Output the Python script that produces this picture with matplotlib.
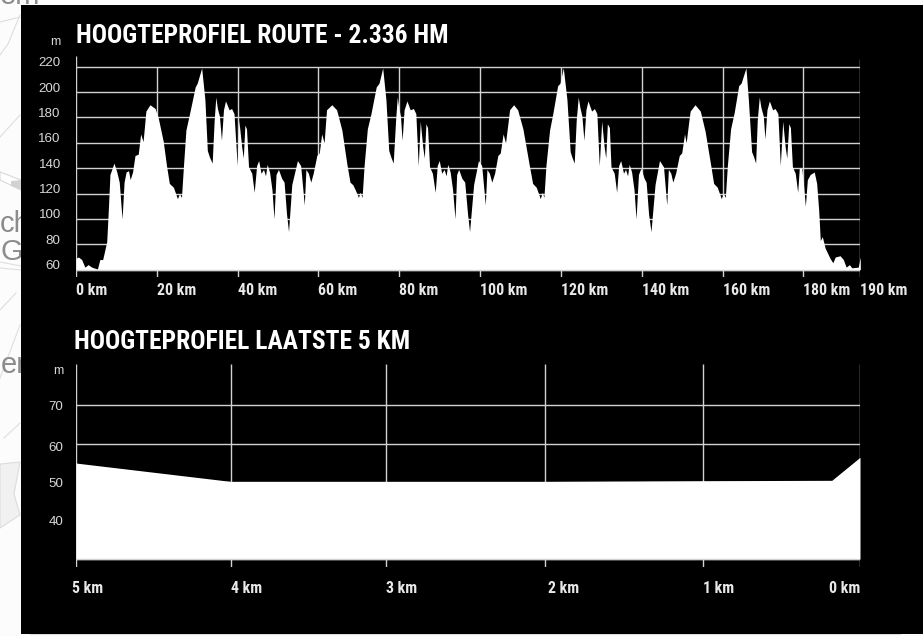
import matplotlib
matplotlib.use("Agg")
import matplotlib.pyplot as plt
from matplotlib.patches import Rectangle, Polygon
from matplotlib.lines import Line2D
from matplotlib.transforms import ScaledTranslation

W, H = 923, 636

route_km = [0,0.6,1.4,2.2,3.0,3.9,5.3,5.9,6.6,7.6,8.0,8.4,9.4,10.1,10.7,11.4,11.9,12.4,13.0,13.4,14.0,14.6,15.4,16.0,16.6,17.3,18.3,19.6,20.4,21.6,22.4,23.1,24.1,25.1,25.6,26.1,26.6,27.2,28.1,29.5,30.0,31.1,31.9,32.5,33.0,33.7,34.2,34.6,35.0,35.5,36.0,36.5,37.0,37.9,38.5,39.1,39.9,40.3,41.0,41.4,41.8,42.2,42.7,43.5,44.1,44.7,45.2,45.8,46.4,46.9,47.3,47.9,48.5,49.0,49.5,50.1,50.9,51.5,52.1,52.6,53.4,54.8,55.6,56.5,56.9,57.5,58.1,58.7,59.6,60.2,60.8,61.4,62.0,63.3,64.5,65.8,67.0,67.8,
    68.5,69.1,69.9,70.3,70.8,71.3,72.1,73.0,74.3,75.0,75.9,76.7,77.4,77.9,78.5,79.1,79.5,79.9,80.3,80.7,81.2,81.9,82.7,83.5,84.1,84.7,85.2,85.8,86.2,86.6,87.0,87.5,88.2,88.9,89.4,89.9,90.5,91.1,91.6,92.0,92.6,93.2,93.8,94.2,94.7,95.5,96.2,96.9,97.4,98.4,99.6,100.4,101.3,101.7,102.3,102.9,103.6,104.4,105.0,105.7,106.3,107.0,107.3,108.3,109.3,110.6,112.2,113.0,113.9,114.9,115.4,115.8,116.3,117.2,118.0,119.2,119.8,120.6,121.5,122.3,122.7,123.3,123.8,124.3,124.7,125.2,125.7,126.2,126.7,127.6,128.3,128.9,129.5,130.1,130.7,131.1,131.5,132.0,132.4,133.2,133.8,134.3,134.8,135.5,136.0,136.5,136.9,
    137.5,138.1,138.6,139.2,139.8,140.6,141.1,141.7,142.3,143.3,144.4,145.4,146.2,146.6,147.2,147.7,148.4,149.3,149.9,150.6,151.0,151.7,152.0,153.2,154.5,155.7,157.1,157.8,158.7,159.7,160.2,160.7,161.2,162.0,162.9,164.0,164.6,165.8,166.4,167.2,167.7,168.2,168.6,169.1,169.5,170.1,170.5,171.0,171.6,172.4,173.0,173.7,174.3,174.9,175.5,175.9,176.4,176.8,177.3,178.0,178.6,179.0,179.6,180.0,180.5,181.0,181.7,182.7,183.3,183.8,184.2,184.7,185.4,186.6,187.3,187.9,189.1,189.9,190.6,191.4,192.0,193.6,194.1]
route_m = [69,70,68,62,64,62,60.5,68,68,82,107,135,144,137,129,100,129,137,138,131,137,150,151,167,161,185,190,187,179,161,142,128,125,116,120,117,142,170,183,204,207,219,194,154,149,144,178,196,187,181,162,186,193,186,187,183,142,178,157,148,174,171,141,136,121,142,146,136,139,134,143,137,123,100,135,139,132,129,104,90,127,146,142,111,139,136,129,136,150,152,167,160,186,190,186,170,144,129,
    127,123,117,121,117,142,171,183,204,207,219,194,154,149,144,178,196,187,181,162,186,193,186,187,183,142,177,157,148,175,172,141,136,121,142,146,136,139,134,143,137,123,100,135,139,132,129,104,90,127,146,142,111,139,136,129,136,150,152,167,160,178,186,190,186,171,142,128,125,116,121,117,142,170,183,205,207,219,194,153,149,144,178,196,188,181,162,186,193,185,187,183,142,177,157,148,175,172,141,136,121,142,146,136,139,134,143,
    137,123,100,135,140,132,129,104,90,127,146,141,111,139,136,129,136,150,152,167,160,178,185,190,185,169,142,128,125,116,120,117,142,171,184,205,207,219,194,153,149,144,178,196,188,181,163,186,193,186,187,183,142,177,157,148,175,172,141,136,121,140,140,129,110,131,135,137,128,107,83,86,77,69,65.5,70,71,68,62,64,61.5,62,70]

route_ticks = [0,20,40,60,80,100,120,140,160,180,194.1]
route_tick_labels = ["0 km","20 km","40 km","60 km","80 km","100 km","120 km","140 km","160 km","180 km","190 km"]
route_yticks = [220,200,180,160,140,120,100,80,60]

last_km = [5,4.01,3.02,2.01,1,0.18,0]
last_m = [55,50.2,50.2,50.2,50.4,50.5,56.5]
last_ticks = [5,4.01,3.02,2.01,1,0]
last_tick_labels = ["5 km","4 km","3 km","2 km","1 km","0 km"]
last_yticks = [70,60,50,40]

title_top = "HOOGTEPROFIEL ROUTE - 2.336 HM"
title_bottom = "HOOGTEPROFIEL LAATSTE 5 KM"

COND = ["Roboto Condensed", "Liberation Sans", "DejaVu Sans"]
SANS = ["Liberation Sans", "DejaVu Sans"]
GRID = "#d2d2d2"
LABEL = "#d8d8d8"

fig = plt.figure(figsize=(W/100, H/100), dpi=100, facecolor="#fbfcfb")

def fx(p): return p / W
def fy(p): return 1 - p / H
def px_shift(dx, dy):
    return ScaledTranslation(dx / 100, -dy / 100, fig.dpi_scale_trans)

# faint map behind the panel
map_lines = [
    [(0,22),(20,17)], [(0,55),(8,44),(20,15)], [(0,137),(20,115)],
    [(0,268),(21,270)], [(0,262),(21,266)],
    [(0,310),(16,293)], [(0,378),(20,325)], [(4,438),(20,423)],
    [(30,634),(900,634)],
]
for seg in map_lines:
    fig.add_artist(Line2D([fx(a) for a, b in seg], [fy(b) for a, b in seg],
                          color="#dedede", lw=0.8, zorder=0))
fig.add_artist(Polygon([(fx(0),fy(172)),(fx(21),fy(180)),(fx(21),fy(190)),(fx(0),fy(180))],
                       closed=True, facecolor="#ffffff", edgecolor="#d8d8d8", lw=0.8, zorder=0))
fig.add_artist(Polygon([(fx(11),fy(181)),(fx(21),fy(180)),(fx(21),fy(190)),(fx(11),fy(186))],
                       closed=True, facecolor="#d2d2d2", edgecolor="none", zorder=0))
fig.add_artist(Polygon([(fx(0),fy(464)),(fx(1),fy(464)),(fx(20),fy(462)),(fx(14),fy(494)),(fx(20),fy(515)),(fx(0),fy(528))],
                       closed=True, facecolor="#f1f1f1", edgecolor="#dcdcdc", lw=0.8, zorder=0))
for s, x, y in [("em", 0, 4), ("ch", 0, 232), ("Ge", 0, 260), ("er", 1, 373)]:
    fig.text(fx(x), fy(y), s, fontsize=21, color="#8c8c8c", family=SANS, va="baseline", zorder=0)

fig.add_artist(Rectangle((fx(21), fy(634)), fx(W - 21), (634 - 5) / H, facecolor="black",
                         edgecolor="none", zorder=1))

def make_axes(left, right, top, bottom):
    ax = fig.add_axes([fx(left), fy(bottom), (right - left) / W, (bottom - top) / H], zorder=2)
    ax.patch.set_alpha(0)
    for s in ax.spines.values():
        s.set_visible(False)
    return ax

def style_ticks(ax, xticks, xlabels, yticks, xpad, ypad):
    ax.set_xticks(xticks, xlabels, ha="left", family=COND, fontweight="bold", fontsize=11.4, color="#e8e8e8")
    ax.set_yticks(yticks, [str(v) for v in yticks], family=SANS, fontsize=9.6, color=LABEL)
    ax.tick_params(axis="both", length=0)
    ax.tick_params(axis="x", pad=xpad)
    ax.tick_params(axis="y", pad=ypad)

# top chart
ax1 = make_axes(76, 860.3, 56, 277)
ax1.set_xlim(0, 194.1)
ax1.set_ylim(54.25, 228.4)
ax1.hlines(route_yticks, 0, 194.1, color=GRID, lw=1, zorder=1)
ax1.vlines(route_ticks[1:-1], 54.25, 220, color=GRID, lw=1, zorder=1)
ax1.vlines([0], 54.25, 228.4, color=GRID, lw=1, zorder=1)
ax1.vlines([194.1], 54.25, 226, color=GRID, lw=1, zorder=1)
ax1.fill_between(route_km, route_m, 60, color="white", lw=0, zorder=2)
ax1.hlines([60], 0, 194.1, color=GRID, lw=1, zorder=3)
style_ticks(ax1, route_ticks, route_tick_labels, route_yticks, 4.5, 11)
for lab in ax1.get_yticklabels():
    lab.set_transform(lab.get_transform() + px_shift(0, -5))

# bottom chart
ax2 = make_axes(76, 860, 364, 566.7)
ax2.set_xlim(5, 0)
ax2.set_ylim(28, 80.8)
ax2.hlines(last_yticks + [30], 5, 0, color=GRID, lw=1, zorder=1)
ax2.vlines(last_ticks, 28, 80.8, color=GRID, lw=1, zorder=1)
ax2.fill_between(last_km, last_m, 30, color="white", lw=0, zorder=2)
ax2.hlines([30], 5, 0, color=GRID, lw=1, zorder=3)
style_ticks(ax2, last_ticks, last_tick_labels, last_yticks, 10.5, 9)
xlabs = ax2.get_xticklabels()
xlabs[0].set_transform(xlabs[0].get_transform() + px_shift(-4, 0))
xlabs[3].set_transform(xlabs[3].get_transform() + px_shift(3, 0))
xlabs[5].set_ha("right")
ylabs = ax2.get_yticklabels()
ylabs[1].set_transform(ylabs[1].get_transform() + px_shift(0, 2.5))

for s, x, y in [("m", 60.5, 42), ("m", 63, 371)]:
    fig.text(fx(x), fy(y), s, fontsize=9, color=LABEL, family=SANS, ha="right", va="center", zorder=3)

fig.text(fx(76), fy(43), title_top, fontsize=18.4, fontweight="bold", color="white",
         family=COND, va="baseline", zorder=3)
fig.text(fx(74), fy(349), title_bottom, fontsize=18.4, fontweight="bold", color="white",
         family=COND, va="baseline", zorder=3)

fig.savefig("out.png", dpi=100, facecolor=fig.get_facecolor())
